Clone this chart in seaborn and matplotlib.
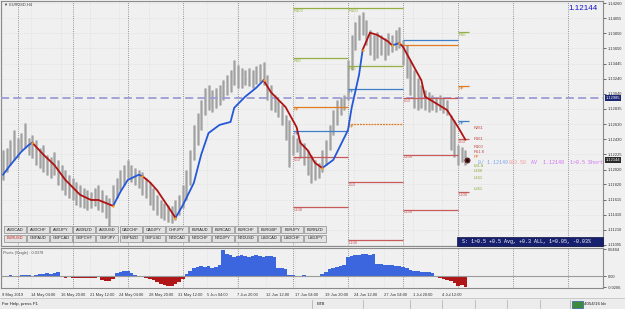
import matplotlib
matplotlib.use("Agg")
import matplotlib.pyplot as plt
from matplotlib.patches import Rectangle
import numpy as np
import pandas as pd
import seaborn as sns

# ---- data (EURUSD H4, grouped per 8h bar) ----
highs = [1.1228, 1.1231, 1.1242, 1.1255, 1.1244, 1.1251, 1.1265, 1.1244, 1.1248, 1.1242,
         1.1231, 1.1235, 1.1222, 1.1219, 1.1226, 1.1215, 1.1208, 1.1201, 1.1195, 1.1191,
         1.1185, 1.1181, 1.1177, 1.1174, 1.1172, 1.1177, 1.1181, 1.1174, 1.1168, 1.1164,
         1.1181, 1.1191, 1.1201, 1.1208, 1.1215, 1.1208, 1.1204, 1.1201, 1.1199, 1.1191,
         1.1185, 1.1177, 1.1168, 1.1161, 1.1157, 1.1154, 1.1153, 1.1161, 1.1168, 1.1181,
         1.1201, 1.1228, 1.1262, 1.1278, 1.1296, 1.1312, 1.1316, 1.1309, 1.1312, 1.1316,
         1.1322, 1.1329, 1.1336, 1.1349, 1.1343, 1.1339, 1.1336, 1.1339, 1.1336, 1.1341,
         1.1344, 1.1347, 1.1329, 1.1316, 1.1302, 1.1296, 1.1289, 1.1275, 1.1269, 1.1248,
         1.1244, 1.1242, 1.1238, 1.1228, 1.1222, 1.1215, 1.1211, 1.1228, 1.1242, 1.1262,
         1.1282, 1.1296, 1.1300, 1.1302, 1.1349, 1.1383, 1.1400, 1.1410, 1.1414, 1.1403,
         1.1390, 1.1383, 1.1387, 1.1383, 1.1379, 1.1386, 1.1383, 1.1390, 1.1394, 1.1376,
         1.1369, 1.1349, 1.1336, 1.1325, 1.1316, 1.1309, 1.1306, 1.1302, 1.1300, 1.1302,
         1.1298, 1.1296, 1.1275, 1.1269, 1.1235, 1.1232, 1.1228]
lows = [1.1188, 1.1199, 1.1208, 1.1215, 1.1217, 1.1228, 1.1231, 1.1222, 1.1217, 1.1208,
        1.1204, 1.1199, 1.1195, 1.1191, 1.1195, 1.1181, 1.1174, 1.1168, 1.1164, 1.1161,
        1.1154, 1.1152, 1.1150, 1.1148, 1.1150, 1.1153, 1.1148, 1.1145, 1.1137, 1.1123,
        1.1154, 1.1164, 1.1174, 1.1181, 1.1191, 1.1185, 1.1181, 1.1177, 1.1168, 1.1164,
        1.1154, 1.1148, 1.1141, 1.1137, 1.1134, 1.1131, 1.1130, 1.1134, 1.1141, 1.1150,
        1.1161, 1.1181, 1.1215, 1.1235, 1.1255, 1.1275, 1.1282, 1.1279, 1.1285, 1.1289,
        1.1296, 1.1302, 1.1306, 1.1316, 1.1312, 1.1312, 1.1316, 1.1314, 1.1312, 1.1317,
        1.1320, 1.1316, 1.1296, 1.1282, 1.1279, 1.1273, 1.1262, 1.1242, 1.1205, 1.1222,
        1.1226, 1.1217, 1.1208, 1.1195, 1.1184, 1.1188, 1.1191, 1.1199, 1.1208, 1.1228,
        1.1248, 1.1262, 1.1275, 1.1282, 1.1296, 1.1336, 1.1363, 1.1376, 1.1383, 1.1369,
        1.1356, 1.1349, 1.1352, 1.1356, 1.1349, 1.1356, 1.1360, 1.1363, 1.1365, 1.1343,
        1.1325, 1.1302, 1.1285, 1.1282, 1.1285, 1.1282, 1.1279, 1.1282, 1.1279, 1.1282,
        1.1278, 1.1275, 1.1228, 1.1219, 1.1208, 1.1212, 1.1208]

# trend MA (blue = rising, red = falling), turning bars
ma_bars = [0, 2, 5, 7, 8, 11, 14, 17, 21, 24, 26, 30, 32, 34, 37, 38, 40, 42, 45, 47,
           49, 52, 54, 56, 59, 62, 63, 66, 69, 71, 73, 75, 77, 80, 81, 83, 85, 87, 90, 92,
           94, 95, 97, 98, 100, 102, 105, 106, 108, 109, 111, 114, 115, 118, 121, 124, 126]
ma_prices = [1.1195, 1.1208, 1.1226, 1.1235, 1.1238, 1.1222, 1.1208, 1.1188, 1.1168, 1.1161,
             1.1161, 1.1153, 1.1172, 1.1188, 1.1195, 1.1193, 1.1185, 1.1174, 1.1152, 1.1137,
             1.1154, 1.1184, 1.1222, 1.1251, 1.1262, 1.1266, 1.1285, 1.1300, 1.1312, 1.1322,
             1.1306, 1.1296, 1.1286, 1.1259, 1.1238, 1.1228, 1.1211, 1.1204, 1.1215, 1.1235,
             1.1255, 1.1285, 1.1329, 1.1363, 1.1386, 1.1383, 1.1374, 1.1369, 1.1372, 1.1367,
             1.1349, 1.1322, 1.1300, 1.1291, 1.1282, 1.1259, 1.1242]
ma_turns = [8, 30, 38, 47, 71, 87, 98, 106, 108]

# pivot histogram (lower window)
hist_values = [-0.0018, -0.0018, 0.0018, -0.0018, -0.0018, 0.0018, 0.0018, 0.0018, -0.0018, 0.0018,
               0.0027, 0.0036, 0.0054, 0.0036, 0.0054, 0.0072,
               -0.0018, -0.0027, -0.0018, -0.0036, -0.0027, -0.0036, -0.0036, -0.0027, -0.0036, -0.0027, -0.0018,
               -0.0072, -0.0090, -0.0090, -0.0054,
               0.0054, 0.0072, 0.0090, 0.0090, 0.0054,
               0.0018, -0.0009, -0.0018,
               -0.0036, -0.0054, -0.0072, -0.0108, -0.0144, -0.0162, -0.0180, -0.0180, -0.0144, -0.0108, -0.0054,
               0.0036, 0.0090, 0.0144, 0.0162, 0.0180, 0.0162, 0.0180, 0.0144, 0.0162, 0.0198,
               0.0468, 0.0396, 0.0378, 0.0342,
               0.0360, 0.0378, 0.0360, 0.0342, 0.0360, 0.0378, 0.0360, 0.0342, 0.0360, 0.0360, 0.0342,
               0.0144, 0.0144, 0.0126, 0.0018,
               0.0018, 0.0009, -0.0009, 0.0018, -0.0018, -0.0009, 0.0009, -0.0018,
               0.0036, 0.0072, 0.0126, 0.0144, 0.0162, 0.0180, 0.0198,
               0.0342, 0.0360, 0.0378, 0.0378, 0.0396, 0.0396, 0.0378, 0.0396,
               0.0216, 0.0216, 0.0198, 0.0198, 0.0198, 0.0180, 0.0180, 0.0162, 0.0144,
               0.0108, 0.0090, 0.0090, 0.0072, 0.0072, 0.0072, 0.0054,
               -0.0018, -0.0036, -0.0054, -0.0072, -0.0090, -0.0126, -0.0180, -0.0162, -0.0198]

date_labels = ["9 May 2019", "14 May 04:00", "16 May 20:00", "21 May 12:00", "24 May 04:00",
               "28 May 20:00", "31 May 12:00", "5 Jun 04:00", "7 Jun 20:00", "12 Jun 12:00",
               "17 Jun 04:00", "19 Jun 20:00", "24 Jun 12:00", "27 Jun 04:00", "1 Jul 20:00",
               "4 Jul 12:00"]
price_ticks = [1.14260, 1.14055, 1.13850, 1.13650, 1.13445, 1.13240, 1.13040, 1.12835, 1.12630,
               1.12430, 1.12225, 1.12020, 1.11820, 1.11615, 1.11410, 1.11210, 1.11005]
hist_ticks = [0.0484, 0.0, -0.0206]
hist_tick_labels = ["0.0484", "0.00", "-0.0206"]

# weekly pivot levels
piv_start = [79, 79, 79, 79, 79, 79, 94, 94, 94, 94, 94, 94, 109, 109, 109, 109, 109, 124, 124, 124, 124, 124]
piv_end = [94, 94, 94, 94, 94, 94, 109, 109, 109, 109, 109, 109, 124, 124, 124, 124, 124, 127, 127, 127, 127, 127]
piv_names = ["R100", "R50", "PP", "PP", "L50", "L100", "R100", "R50", "PP", "PP", "L50", "L100",
             "", "", "L50", "L100", "L150", "R50", "PP", "PP", "L50", "L100"]
piv_kind = ["R", "R", "PPo", "PPb", "L", "L", "R", "R", "PPb", "PPo", "L", "L",
            "PPb", "PPo", "L", "L", "L", "R", "PPo", "PPb", "L", "L"]
piv_prices = [1.1419, 1.1352, 1.1286, 1.1254, 1.1219, 1.1152, 1.1419, 1.1341, 1.1310, 1.1263, 1.1185, 1.1107,
              1.1376, 1.1370, 1.1298, 1.1222, 1.1148, 1.1387, 1.1314, 1.1267, 1.1243, 1.1172]

fib_names = ["R261", "R161", "R100", "R61.8", "PP", "L61.8", "L100", "L161", "L261"]
fib_prices = [1.1258, 1.1243, 1.1232, 1.1226, 1.1219, 1.1207, 1.1200, 1.1191, 1.1176]

symbols_row1 = ["AUDCAD", "AUDCHF", "AUDJPY", "AUDNZD", "AUDUSD", "CADCHF", "CADJPY",
                "CHFJPY", "EURAUD", "EURCAD", "EURCHF", "EURGBP", "EURJPY", "EURNZD"]
symbols_row2 = ["EURUSD", "GBPAUD", "GBPCAD", "GBPCHF", "GBPJPY", "GBPNZD", "GBPUSD",
                "NZDCAD", "NZDCHF", "NZDJPY", "NZDUSD", "USDCAD", "USDCHF", "USDJPY"]

bid_price = 1.12144
line_price = 1.12985

# ---- figure ----
sns.set_style("white")
plt.rcParams["font.family"] = ["Liberation Sans", "DejaVu Sans"]

W, H = 625, 309
BG = "#f0f0f0"
fig = plt.figure(figsize=(W / 100, H / 100), dpi=100, facecolor=BG)


def fx(x):
    return x / W


def fy(y):
    return 1 - y / H


ax = fig.add_axes([fx(1), fy(246), 602 / W, 245 / H], facecolor=BG)
ax2 = fig.add_axes([fx(1), fy(288), 602 / W, 40 / H], facecolor=BG)
for a in (ax, ax2):
    a.set_xlim(-0.545, 163.49)
    for s in a.spines.values():
        s.set_color("#8a8a8a")
        s.set_linewidth(0.8)
ax.set_ylim(1.10991, 1.14287)
ax2.set_ylim(-0.0215, 0.0502)

n = len(highs)
bars = np.arange(n)
label_pos = np.arange(len(date_labels)) * 8 - 0.3
weeks = np.arange(0, 11) * 15 + 4

# grids
for p in price_ticks:
    ax.axhline(p, color="#d6d6d6", lw=0.5, ls=(0, (1, 2)), zorder=0)
for x in label_pos:
    for a in (ax, ax2):
        a.axvline(x, color="#d6d6d6", lw=0.5, ls=(0, (1, 2)), zorder=0)
for x in weeks:
    for a in (ax, ax2):
        a.axvline(x, color="#777777", lw=0.6, ls=(0, (1, 1.6)), zorder=1)

# price bars
ax.vlines(bars, lows, highs, color="#b4b4b4", lw=1.9, zorder=2)
ax.vlines(bars, lows, highs, color="#9a9a9a", lw=0.5, zorder=2)

# dashed line
ax.axhline(line_price, color="#9c9cd4", lw=1.3, dashes=(4.5, 2.3), zorder=3)

# pivot levels
kind_col = {"R": "#93b042", "L": "#c85a5a", "PPo": "#e07b22", "PPb": "#3f7fc8"}
for i in range(len(piv_prices)):
    c = kind_col[piv_kind[i]]
    ls = (0, (1.5, 0.8)) if (piv_kind[i] == "PPo" and piv_start[i] == 94) else "-"
    ax.hlines(piv_prices[i], piv_start[i], piv_end[i], color=c, lw=0.9, ls=ls, zorder=3)
    if piv_names[i]:
        ax.annotate(piv_names[i], (piv_start[i], piv_prices[i]), xytext=(0.2, -0.6),
                    textcoords="offset points", fontsize=3.0, color=c, va="top", ha="left",
                    zorder=4)

# trend MA drawn with seaborn, one unit per segment
bounds = [ma_bars[0]] + ma_turns + [ma_bars[-1]]
rows = []
for k in range(len(bounds) - 1):
    for b, p in zip(ma_bars, ma_prices):
        if bounds[k] <= b <= bounds[k + 1]:
            rows.append({"bar": b, "price": p, "seg": k, "trend": "up" if k % 2 == 0 else "down"})
df_ma = pd.DataFrame(rows)
sns.lineplot(data=df_ma, x="bar", y="price", hue="trend", units="seg", estimator=None,
             palette={"up": "#2458d8", "down": "#b01212"}, lw=1.3, legend=False, sort=False,
             ax=ax, zorder=5)
turn_prices = [ma_prices[ma_bars.index(b)] for b in ma_turns]
ax.scatter(ma_turns, turn_prices, s=3, color="#ffa31a", zorder=6, linewidths=0)

# fibo labels near the last bar
fib_col = {"R": "#c0443c", "P": "#e07b22", "L": "#86a832"}
for nm, p in zip(fib_names, fib_prices):
    ax.text(128.3, p, nm, fontsize=3.0, color=fib_col[nm[0]], va="center", ha="left", zorder=6)

# last bar marker and trade line
ax.scatter([126.4], [1.1215], s=14, color="#d01818", edgecolors="#202020", linewidths=0.5, zorder=7)
ax.scatter([126.4], [1.1215], s=2, color="#101010", zorder=8)
mono = ["Liberation Mono", "DejaVu Sans Mono"]
ax.text(129.4, 1.1212, "0/ 1.12149", fontsize=3.6, family=mono, color="#79a4ee", va="center", zorder=7)
ax.text(137.8, 1.1212, "003.50", fontsize=3.6, family=mono, color="#f09a9a", va="center", zorder=7)
ax.text(143.9, 1.1212, "AV  1.12149  1>0.5 Short", fontsize=3.6, family=mono, color="#cf6ff0",
        va="center", zorder=7, clip_on=True)

# right price axis
ax.yaxis.tick_right()
ax.set_yticks(price_ticks)
ax.set_yticklabels([f"{p:.5f}" for p in price_ticks])
ax.tick_params(axis="y", right=True, left=False, length=2, width=0.5, pad=1.5,
               labelsize=2.9, colors="#333333")
ax.tick_params(axis="x", bottom=False, labelbottom=False)
ax.set_xlabel("")
ax.set_ylabel("")
ytr = ax.get_yaxis_transform()
ax.text(1.004, line_price, "1.12985", transform=ytr, fontsize=2.9, color="white", va="center",
        ha="left", bbox=dict(fc="#1b2774", ec="none", pad=0.6), zorder=9, clip_on=False)
ax.text(1.004, bid_price, "1.12144", transform=ytr, fontsize=2.9, color="white", va="center",
        ha="left", bbox=dict(fc="#2a2a2a", ec="none", pad=0.6), zorder=9, clip_on=False)

# lower window: histogram
cols = ["#3b66dd" if v >= 0 else "#b01518" for v in hist_values]
ax2.bar(bars, hist_values, width=1.0, color=cols, linewidth=0, zorder=2)
ax2.axhline(0, color="#9a9a9a", lw=0.8, zorder=3)
ax2.yaxis.tick_right()
ax2.set_yticks(hist_ticks)
ax2.set_yticklabels(hist_tick_labels)
ax2.tick_params(axis="y", right=True, left=False, length=2, width=0.5, pad=1.5,
                labelsize=2.9, colors="#333333")
ax2.set_xticks(label_pos)
ax2.set_xticklabels(date_labels)
ax2.tick_params(axis="x", length=2, width=0.5, pad=1.5, labelsize=2.9, colors="#333333")
for t in ax2.get_xticklabels():
    t.set_ha("left")
ax2.text(0.003, 0.93, "Pivots (Single) : 0.0378", transform=ax2.transAxes, fontsize=2.8,
         color="#555555", va="top")

# header texts
fig.text(fx(4), fy(5), "\u25bc EURUSD,H4", fontsize=2.9, color="#404040", va="center")
fig.text(fx(598), fy(9), "1.12144", fontsize=5.8, color="#1414c8", va="center", ha="right")

# symbol buttons
for r, names in enumerate([symbols_row1, symbols_row2]):
    y0 = 226 + r * 8.7
    for j, nm in enumerate(names):
        x0 = 4 + j * 23.1
        fig.add_artist(Rectangle((fx(x0), fy(y0 + 7.2)), 22 / W, 7.2 / H, transform=fig.transFigure,
                                 fc="#e2e2e2", ec="#8c8c8c", lw=0.5))
        fig.text(fx(x0 + 11), fy(y0 + 3.7), nm, fontsize=2.9, ha="center", va="center",
                 color="#d42020" if nm == "EURUSD" else "#202020")

# info box
fig.add_artist(Rectangle((fx(457), fy(246)), 146 / W, 9.5 / H, transform=fig.transFigure,
                         fc="#17206e", ec="#0b1040", lw=0.5))
fig.text(fx(462), fy(241.3), "S: 1>0.5 +0.5 Avg, +0.3 ALL, 1=0.05, -0.03%", fontsize=3.6,
         family=mono, color="white", va="center")

# status bar
fig.add_artist(Rectangle((0, 0), 1, 11 / H, transform=fig.transFigure, fc="#ececec", ec="none"))
fig.add_artist(plt.Line2D([0, 1], [fy(298), fy(298)], transform=fig.transFigure, color="#c4c4c4", lw=0.6))
fig.text(fx(2), fy(304), "For Help, press F1", fontsize=3.2, color="#202020", va="center")
for sx in [312, 363, 410, 442, 475, 507, 540, 570]:
    fig.add_artist(plt.Line2D([fx(sx), fx(sx)], [fy(308), fy(300)], transform=fig.transFigure,
                              color="#b4b4b4", lw=0.6))
fig.text(fx(317), fy(304), "BTB", fontsize=3.2, color="#202020", va="center")
fig.add_artist(Rectangle((fx(572), fy(307.5)), 11 / W, 7 / H, transform=fig.transFigure,
                         fc="#3d8a3a", ec="#2a5fa8", lw=0.5))
fig.text(fx(584), fy(304), "4054/16 kb", fontsize=3.2, color="#202020", va="center")

fig.savefig("out.png", dpi=100, facecolor=BG)
